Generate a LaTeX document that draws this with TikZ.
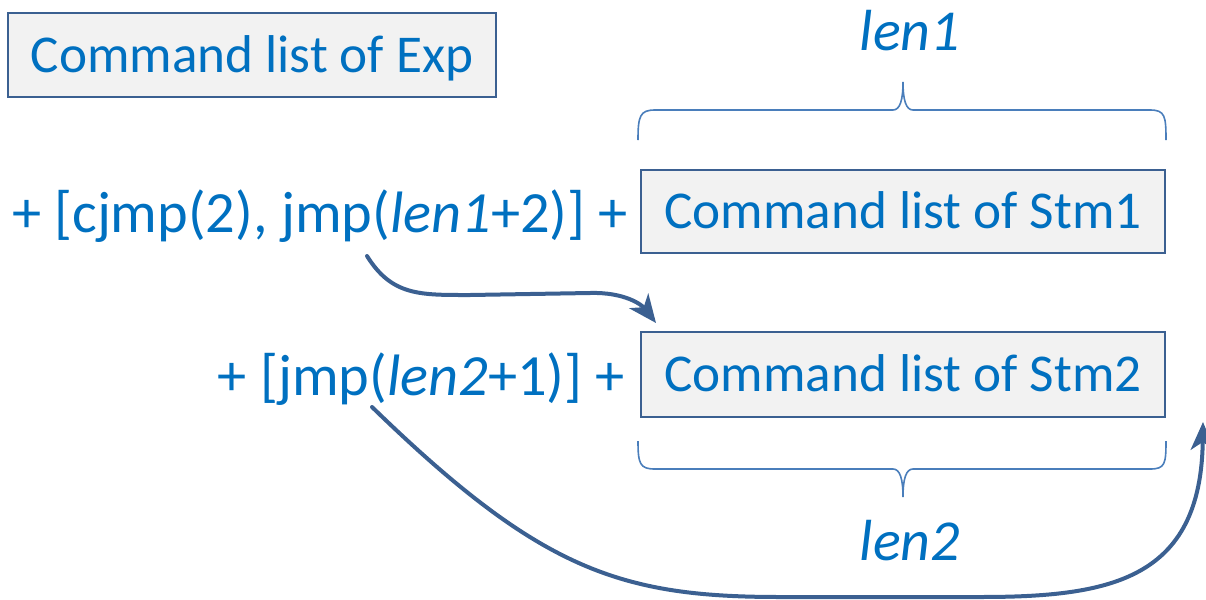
\documentclass[tikz,border=0pt]{standalone}
\usepackage{fontspec}
\setmainfont{Carlito}
\usetikzlibrary{arrows.meta}
\definecolor{txtblue}{HTML}{0070C0}
\definecolor{edge}{HTML}{3B6091}
\definecolor{brace}{HTML}{4A7EBB}
\definecolor{boxfill}{HTML}{F2F2F2}

\begin{document}
\begin{tikzpicture}[x=0.5pt,y=-0.5pt,
  every node/.style={text=txtblue},
  cmdbox/.style={draw=edge, line width=1pt, fill=boxfill, inner sep=0pt,
                 font=\fontsize{26.6}{32}\selectfont,
                 text height=17.1pt, text depth=0pt},
  code/.style={inner sep=0pt, font=\fontsize{29.2}{35}\selectfont},
  lenlabel/.style={inner sep=0pt, font=\fontsize{29}{35}\selectfont\itshape},
  jump/.style={draw=edge, line width=2pt, line cap=round,
               -{Stealth[length=14pt,width=12pt,inset=4pt]}},
  bracket/.style={draw=brace, line width=0.8pt},
]
\useasboundingbox (0,0) rectangle (1206,600);

% command blocks
\node[cmdbox, minimum width=244pt, minimum height=42pt] (exp) at (252,55) {Command list of Exp};
\node[cmdbox, minimum width=262pt, minimum height=41.5pt] (stm1) at (903,211.5) {Command list of Stm1};
\node[cmdbox, minimum width=262pt, minimum height=42.5pt] (stm2) at (903,374.5) {Command list of Stm2};

% generated jump instructions
\node[code, anchor=base east] (line1) at (628,232) {+ [cjmp(2), jmp(\textit{len1}+2)] +};
\node[code, anchor=base east] (line2) at (625,395) {+ [jmp(\textit{len2}+1)] +};

% lengths
\node[lenlabel, anchor=base] (len1) at (910,50) {len1};
\node[lenlabel, anchor=base] (len2) at (910,560) {len2};

% braces
\draw[bracket] (638,140) .. controls (638,116) and (640,110) .. (655,110) -- (893,110)
  .. controls (900,110) and (903,100) .. (903,82)
  .. controls (903,100) and (906,110) .. (913,110) -- (1150,110)
  .. controls (1165,110) and (1166,116) .. (1166,140);
\draw[bracket] (638,441) .. controls (638,464) and (640,469) .. (655,469) -- (893,469)
  .. controls (900,469) and (903,479) .. (903,497)
  .. controls (903,479) and (906,469) .. (913,469) -- (1150,469)
  .. controls (1165,469) and (1166,464) .. (1166,441);

% jump targets
\coordinate (a1s) at (367,256);
\coordinate (a1e) at (656,323);
\coordinate (a2s) at (372,407);
\coordinate (a2e) at (1203,422);

\draw[jump] (a1s) .. controls (392,296) and (420,295) .. (470,295) -- (590,293)
  .. controls (625,292) and (642,305) .. (a1e);
\draw[jump] (a2s) .. controls (540,570) and (620,597) .. (780,597) -- (980,597)
  .. controls (1110,597) and (1201,580) .. (a2e);
\end{tikzpicture}
\end{document}
